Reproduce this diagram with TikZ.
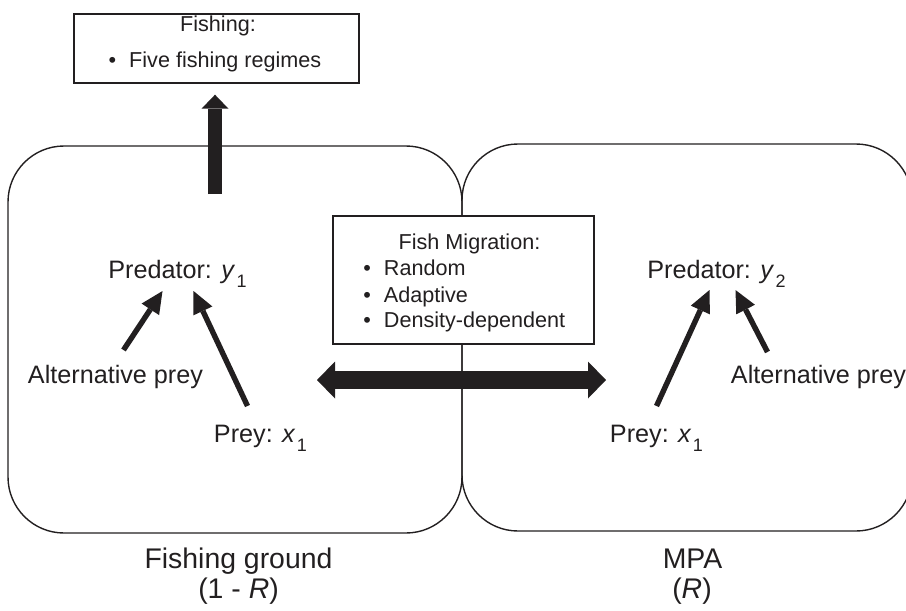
\documentclass[tikz,border=0pt]{standalone}
\usepackage{fontspec}
\setmainfont{Liberation Sans}
\usetikzlibrary{arrows.meta}
\definecolor{ink}{RGB}{34,31,32}

\newcommand{\lowidx}[1]{\kern0.06em\raisebox{-0.36em}{\fontsize{9}{10}\selectfont #1}}

\tikzset{
  zone/.style={draw=ink, line width=0.7pt, rounded corners=28pt, minimum height=193.5pt},
  panel/.style={draw=ink, fill=white, line width=0.7pt},
  lbl/.style={text=ink, inner sep=0pt, font=\fontsize{12.6}{15}\selectfont},
  boxtxt/.style={text=ink, inner sep=0pt, font=\fontsize{10.8}{13}\selectfont},
  area/.style={text=ink, inner sep=0pt, font=\fontsize{14.2}{17}\selectfont},
  feeds/.style={ink, line width=2.7pt, -{Triangle[length=11pt,width=10.5pt,line width=0pt]}},
  flow/.style={ink, line width=7pt, -{Triangle[length=7pt,width=13.5pt,line width=0pt]}},
  migrate/.style={ink, line width=9pt, {Triangle[length=9pt,width=18.5pt,line width=0pt]}-{Triangle[length=9pt,width=18.5pt,line width=0pt]}},
}

\begin{document}
\begin{tikzpicture}[x=0.5pt, y=-0.5pt]
    \useasboundingbox (0,0) rectangle (906,611);
    \clip (0,0) rectangle (906,611);

    % the two areas
    \node[zone, minimum width=227pt] (ground) at (235,339.5) {};
    \node[zone, minimum width=225pt] (mpa) at (687,337.5) {};

    % fishing
    \node[panel, minimum width=142.5pt, minimum height=34.5pt] (fish) at (216.5,48.5) {};
    \node[boxtxt, anchor=base] (fishhead) at (218,31) {Fishing:};
    \node[boxtxt, anchor=base] (fishlist) at (215,67) {\textbullet\hspace{0.6em}Five fishing regimes};

    % migration
    \node[panel, minimum width=130.5pt, minimum height=64pt] (mig) at (463.5,280) {};
    \node[boxtxt, anchor=base] (mighead) at (469.5,249) {Fish Migration:};
    \node[boxtxt, anchor=base west] (migA) at (363,275) {\textbullet\hspace{0.6em}Random};
    \node[boxtxt, anchor=base west] (migB) at (363,302) {\textbullet\hspace{0.6em}Adaptive};
    \node[boxtxt, anchor=base west] (migC) at (363,327) {\textbullet\hspace{0.6em}Density-dependent};

    % food web, fishing ground
    \node[lbl, anchor=base] (pred1) at (177.5,278) {Predator: \textit{y}\lowidx{1}};
    \node[lbl, anchor=base] (alt1) at (115.5,383) {Alternative prey};
    \node[lbl, anchor=base] (prey1) at (260.5,442) {Prey: \textit{x}\lowidx{1}};

    % food web, MPA
    \node[lbl, anchor=base] (pred2) at (716.5,278) {Predator: \textit{y}\lowidx{2}};
    \node[lbl, anchor=base] (alt2) at (818.5,383) {Alternative prey};
    \node[lbl, anchor=base] (prey2) at (656.5,442) {Prey: \textit{x}\lowidx{1}};

    \node[area, anchor=base] (groundname) at (238.5,568) {Fishing ground};
    \node[area, anchor=base] (groundshare) at (238.5,598) {(1 - \textit{R})};
    \node[area, anchor=base] (mpaname) at (692.5,568) {MPA};
    \node[area, anchor=base] (mpashare) at (692,598) {(\textit{R})};

    \draw[feeds] ([shift={(8,-33)}]alt1.base) -- ([shift={(-15,13)}]pred1.base);
    \draw[feeds] ([shift={(-13,-36)}]prey1.base) -- ([shift={(16,13)}]pred1.base);
    \draw[feeds] ([shift={(0,-36)}]prey2.base) -- ([shift={(-7,12)}]pred2.base);
    \draw[feeds] ([shift={(-51,-31)}]alt2.base) -- ([shift={(19,12)}]pred2.base);

    \coordinate (catch) at (215,194);
    \draw[flow, shorten >=5.5pt] (catch) -- (catch |- fish.south);

    \coordinate (migL) at (317,380);
    \coordinate (migR) at (606,380);
    \draw[migrate] (migL) -- (migR);
\end{tikzpicture}
\end{document}
